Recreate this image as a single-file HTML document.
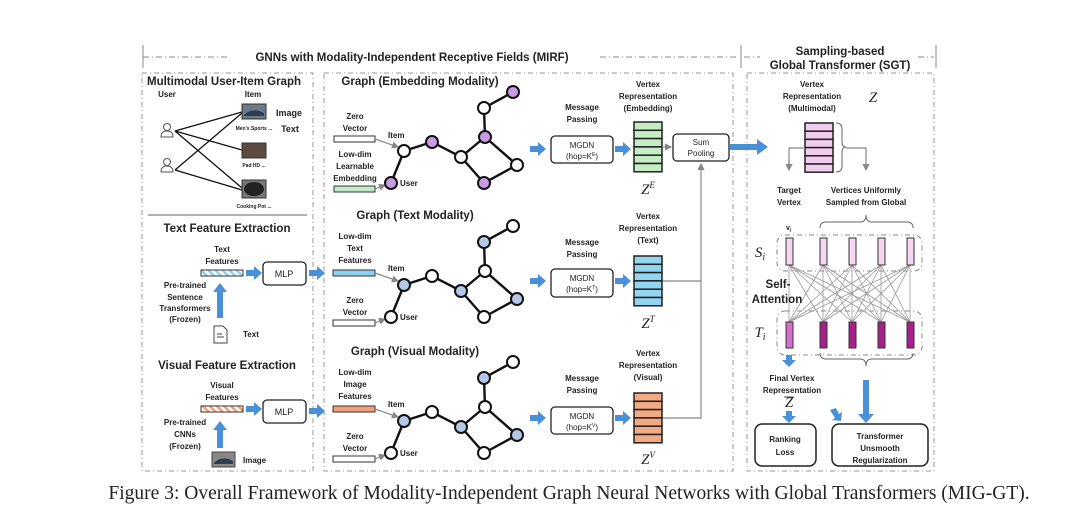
<!DOCTYPE html>
<html><head><meta charset="utf-8"><style>
html,body{margin:0;padding:0;background:#fff}
svg{display:block}
text{font-family:"Liberation Sans",Arial,sans-serif;font-weight:bold;fill:#222}
.s{font-size:8px}
.m{font-size:9px}
.t{font-size:11.5px}
.n{font-weight:normal}
.it{font-family:"Liberation Serif",serif;font-style:italic;font-weight:normal;font-size:15px}
.e{stroke:#111;stroke-width:2.4;fill:none}
.g{stroke:#888;stroke-width:1.2;fill:none}
</style></head><body>
<svg width="1080" height="515" viewBox="0 0 1080 515" xmlns="http://www.w3.org/2000/svg">
<defs>
<marker id="ga" markerWidth="6" markerHeight="6" refX="5" refY="3" orient="auto"><path d="M0,0 L6,3 L0,6z" fill="#888"/></marker>
<pattern id="ts" width="5" height="6" patternUnits="userSpaceOnUse" patternTransform="rotate(-45)"><rect width="5" height="6" fill="#fff"/><rect width="2.5" height="6" fill="#8fd0f0"/></pattern>
<pattern id="vs" width="5" height="6" patternUnits="userSpaceOnUse" patternTransform="rotate(-45)"><rect width="5" height="6" fill="#fff"/><rect width="2.5" height="6" fill="#f0a07a"/></pattern>
<g id="barr"><path d="M0,-3 L8,-3 L8,-7 L16,0 L8,7 L8,3 L0,3z" fill="#4a90d9"/></g>
</defs>

<line x1="143" y1="45" x2="143" y2="68" stroke="#888"/>
<line x1="143" y1="57" x2="230" y2="57" stroke="#888" stroke-dasharray="6,3,1,3"/>
<line x1="600" y1="57" x2="737" y2="57" stroke="#888" stroke-dasharray="6,3,1,3"/>
<text x="412" y="61" text-anchor="middle" class="t">GNNs with Modality-Independent Receptive Fields (MIRF)</text>
<line x1="741" y1="45" x2="741" y2="68" stroke="#888"/>
<line x1="744" y1="57" x2="760" y2="57" stroke="#888" stroke-dasharray="6,3,1,3"/>
<line x1="918" y1="57" x2="934" y2="57" stroke="#888" stroke-dasharray="6,3,1,3"/>
<line x1="936" y1="45" x2="936" y2="68" stroke="#888"/>
<text x="840" y="55" text-anchor="middle" class="t">Sampling-based</text>
<text x="840" y="69" text-anchor="middle" class="t">Global Transformer (SGT)</text>

<rect x="142" y="73" width="171" height="398" fill="none" stroke="#999" stroke-dasharray="5,3,1,3"/>
<rect x="324" y="73" width="409" height="398" fill="none" stroke="#999" stroke-dasharray="5,3,1,3"/>
<rect x="747" y="73" width="187" height="398" fill="none" stroke="#999" stroke-dasharray="5,3,1,3"/>
<line x1="148" y1="215" x2="307" y2="215" stroke="#999" stroke-width="1.5"/>

<text x="147" y="85" class="t">Multimodal User-Item Graph</text>
<text x="167" y="97" class="s" text-anchor="middle">User</text>
<text x="253" y="97" class="s" text-anchor="middle">Item</text>
<g stroke="#555" fill="none" stroke-width="1">
<circle cx="167" cy="127" r="3.5"/><path d="M161,137 q0,-6 6,-6 q6,0 6,6z"/>
<circle cx="167" cy="162" r="3.5"/><path d="M161,172 q0,-6 6,-6 q6,0 6,6z"/>
</g>
<g stroke="#111" stroke-width="1.3">
<line x1="175" y1="131" x2="242" y2="112"/><line x1="175" y1="131" x2="242" y2="150"/><line x1="175" y1="131" x2="242" y2="188"/>
<line x1="175" y1="170" x2="242" y2="113"/><line x1="175" y1="170" x2="242" y2="190"/>
</g>
<rect x="242" y="104" width="24" height="15" fill="#6a7a88" stroke="#333"/>
<path d="M244,115 q8,-8 20,-2 l0,3 l-20,0z" fill="#2d3e4e"/>
<rect x="242" y="143" width="24" height="15" fill="#5a4a40" stroke="#333"/>
<rect x="242" y="180" width="24" height="18" fill="#777" stroke="#333"/>
<ellipse cx="254" cy="189" rx="10" ry="7" fill="#222"/>
<text x="254" y="130" text-anchor="middle" font-size="5">Men's Sports ...</text>
<text x="254" y="167" text-anchor="middle" font-size="5">Pad HD ...</text>
<text x="254" y="208" text-anchor="middle" font-size="5">Cooking Pot ...</text>
<text x="289" y="116" text-anchor="middle" class="m">Image</text>
<text x="290" y="132" text-anchor="middle" class="m">Text</text>

<text x="227" y="232" text-anchor="middle" class="t">Text Feature Extraction</text>
<text x="222" y="252" text-anchor="middle" class="s">Text</text>
<text x="222" y="264" text-anchor="middle" class="s">Features</text>
<rect x="201" y="270" width="42" height="6" fill="url(#ts)" stroke="#333"/>
<use href="#barr" x="246" y="273"/>
<rect x="263" y="262" width="43" height="23" rx="4" fill="#fff" stroke="#222" stroke-width="1.3"/>
<text x="284" y="277" text-anchor="middle" class="m n">MLP</text>
<use href="#barr" x="309" y="273"/>
<text x="185" y="288" text-anchor="middle" class="s">Pre-trained</text>
<text x="185" y="300" text-anchor="middle" class="s">Sentence</text>
<text x="185" y="311" text-anchor="middle" class="s">Transformers</text>
<text x="185" y="322" text-anchor="middle" class="s">(Frozen)</text>
<path d="M217,318 L217,292 L213,292 L220,283 L227,292 L223,292 L223,318z" fill="#4a90d9"/>
<path d="M214,326 h9 l4,4 v13 h-13z" fill="#fff" stroke="#444"/>
<line x1="217" y1="334" x2="222" y2="334" stroke="#444"/><line x1="217" y1="337" x2="224" y2="337" stroke="#444"/>
<text x="243" y="337" class="s">Text</text>

<text x="227" y="369" text-anchor="middle" class="t">Visual Feature Extraction</text>
<text x="222" y="388" text-anchor="middle" class="s">Visual</text>
<text x="222" y="400" text-anchor="middle" class="s">Features</text>
<rect x="201" y="406" width="42" height="6" fill="url(#vs)" stroke="#333"/>
<use href="#barr" x="246" y="409"/>
<rect x="263" y="400" width="43" height="23" rx="4" fill="#fff" stroke="#222" stroke-width="1.3"/>
<text x="284" y="415" text-anchor="middle" class="m n">MLP</text>
<use href="#barr" x="309" y="411"/>
<text x="185" y="425" text-anchor="middle" class="s">Pre-trained</text>
<text x="185" y="437" text-anchor="middle" class="s">CNNs</text>
<text x="185" y="449" text-anchor="middle" class="s">(Frozen)</text>
<path d="M217,448 L217,430 L213,430 L220,421 L227,430 L223,430 L223,448z" fill="#4a90d9"/>
<rect x="212" y="452" width="23" height="15" fill="#888" stroke="#444"/>
<path d="M214,463 q8,-8 19,-2 l0,3 l-19,0z" fill="#2d3e4e"/>
<text x="243" y="463" class="s">Image</text>

<text x="420" y="85" text-anchor="middle" class="t">Graph (Embedding Modality)</text>
<text x="355" y="119" text-anchor="middle" class="s">Zero</text>
<text x="355" y="131" text-anchor="middle" class="s">Vector</text>
<rect x="334" y="136" width="41" height="6" fill="#fff" stroke="#333"/>
<text x="355" y="157" text-anchor="middle" class="s">Low-dim</text>
<text x="355" y="169" text-anchor="middle" class="s">Learnable</text>
<text x="355" y="181" text-anchor="middle" class="s">Embedding</text>
<rect x="334" y="186" width="41" height="6" fill="#c5e8c8" stroke="#333"/>
<line x1="375" y1="139" x2="398" y2="147" class="g" marker-end="url(#ga)"/>
<line x1="375" y1="189" x2="385" y2="185" class="g" marker-end="url(#ga)"/>
<text x="388" y="138" class="s">Item</text>
<text x="400" y="186" class="s">User</text>
<g>
<path class="e" d="M391,183 L404,151 L432,142 L461,157 L485,137 L484,108 L513,92 M485,137 L517,165 L484,183 L461,157"/>
<g stroke="#111" stroke-width="2">
<circle cx="391" cy="183" r="6" fill="#c99be6"/><circle cx="404" cy="151" r="6" fill="#fff"/>
<circle cx="432" cy="142" r="6" fill="#c99be6"/><circle cx="461" cy="157" r="6" fill="#fff"/>
<circle cx="485" cy="137" r="6" fill="#c99be6"/><circle cx="484" cy="108" r="6" fill="#fff"/>
<circle cx="513" cy="92" r="6" fill="#c99be6"/><circle cx="517" cy="165" r="6" fill="#fff"/>
<circle cx="484" cy="183" r="6" fill="#c99be6"/>
</g></g>

<text x="415" y="219" text-anchor="middle" class="t">Graph (Text Modality)</text>
<text x="355" y="239" text-anchor="middle" class="s">Low-dim</text>
<text x="355" y="251" text-anchor="middle" class="s">Text</text>
<text x="355" y="263" text-anchor="middle" class="s">Features</text>
<rect x="333" y="270" width="42" height="6" fill="#8fd0f0" stroke="#333"/>
<text x="355" y="303" text-anchor="middle" class="s">Zero</text>
<text x="355" y="315" text-anchor="middle" class="s">Vector</text>
<rect x="333" y="320" width="42" height="6" fill="#fff" stroke="#333"/>
<line x1="375" y1="273" x2="398" y2="281" class="g" marker-end="url(#ga)"/>
<line x1="375" y1="323" x2="385" y2="319" class="g" marker-end="url(#ga)"/>
<text x="388" y="271" class="s">Item</text>
<text x="400" y="320" class="s">User</text>
<g transform="translate(0,134)">
<path class="e" d="M391,183 L404,151 L432,142 L461,157 L485,137 L484,108 L513,92 M485,137 L517,165 L484,183 L461,157"/>
<g stroke="#111" stroke-width="2">
<circle cx="391" cy="183" r="6" fill="#fff"/><circle cx="404" cy="151" r="6" fill="#b4c7e7"/>
<circle cx="432" cy="142" r="6" fill="#fff"/><circle cx="461" cy="157" r="6" fill="#b4c7e7"/>
<circle cx="485" cy="137" r="6" fill="#fff"/><circle cx="484" cy="108" r="6" fill="#b4c7e7"/>
<circle cx="513" cy="92" r="6" fill="#fff"/><circle cx="517" cy="165" r="6" fill="#b4c7e7"/>
<circle cx="484" cy="183" r="6" fill="#fff"/>
</g></g>

<text x="415" y="355" text-anchor="middle" class="t">Graph (Visual Modality)</text>
<text x="355" y="375" text-anchor="middle" class="s">Low-dim</text>
<text x="355" y="387" text-anchor="middle" class="s">Image</text>
<text x="355" y="399" text-anchor="middle" class="s">Features</text>
<rect x="333" y="406" width="42" height="6" fill="#f0a07a" stroke="#333"/>
<text x="355" y="439" text-anchor="middle" class="s">Zero</text>
<text x="355" y="451" text-anchor="middle" class="s">Vector</text>
<rect x="333" y="456" width="42" height="6" fill="#fff" stroke="#333"/>
<line x1="375" y1="409" x2="398" y2="417" class="g" marker-end="url(#ga)"/>
<line x1="375" y1="459" x2="385" y2="455" class="g" marker-end="url(#ga)"/>
<text x="388" y="407" class="s">Item</text>
<text x="400" y="456" class="s">User</text>
<g transform="translate(0,270)">
<path class="e" d="M391,183 L404,151 L432,142 L461,157 L485,137 L484,108 L513,92 M485,137 L517,165 L484,183 L461,157"/>
<g stroke="#111" stroke-width="2">
<circle cx="391" cy="183" r="6" fill="#fff"/><circle cx="404" cy="151" r="6" fill="#b4c7e7"/>
<circle cx="432" cy="142" r="6" fill="#fff"/><circle cx="461" cy="157" r="6" fill="#b4c7e7"/>
<circle cx="485" cy="137" r="6" fill="#fff"/><circle cx="484" cy="108" r="6" fill="#b4c7e7"/>
<circle cx="513" cy="92" r="6" fill="#fff"/><circle cx="517" cy="165" r="6" fill="#b4c7e7"/>
<circle cx="484" cy="183" r="6" fill="#fff"/>
</g></g>

<text x="582" y="110" text-anchor="middle" class="s">Message</text>
<text x="582" y="122" text-anchor="middle" class="s">Passing</text>
<text x="648" y="87" text-anchor="middle" class="s">Vertex</text>
<text x="648" y="99" text-anchor="middle" class="s">Representation</text>
<text x="648" y="111" text-anchor="middle" class="s">(Embedding)</text>
<use href="#barr" x="530" y="149"/>
<rect x="551" y="136" width="62" height="27" rx="4" fill="#fff" stroke="#222" stroke-width="1.3"/>
<text x="582" y="148" text-anchor="middle" class="s n">MGDN</text>
<text x="582" y="159" text-anchor="middle" class="s n">(hop=K<tspan font-size="5" dy="-3">E</tspan><tspan dy="3">)</tspan></text>
<use href="#barr" x="615" y="149"/>
<g stroke="#222" stroke-width="1.5" fill="#c5ecc5">
<rect x="634" y="122" width="28" height="8.3"/><rect x="634" y="130.3" width="28" height="8.3"/><rect x="634" y="138.6" width="28" height="8.3"/><rect x="634" y="146.9" width="28" height="8.3"/><rect x="634" y="155.2" width="28" height="8.3"/><rect x="634" y="163.5" width="28" height="8.3"/>
</g>
<text x="648" y="194" text-anchor="middle" class="it">Z<tspan font-size="9" dy="-6">E</tspan></text>
<line x1="662" y1="147" x2="671" y2="147" class="g" marker-end="url(#ga)"/>
<rect x="673" y="134" width="56" height="27" rx="4" fill="#fff" stroke="#222" stroke-width="1.3"/>
<text x="701" y="145" text-anchor="middle" class="s n">Sum</text>
<text x="701" y="156" text-anchor="middle" class="s n">Pooling</text>
<path d="M662,281 H701 M662,418 H701 V164" class="g" marker-end="url(#ga)"/>
<path d="M730,144 L757,144 L757,139 L768,147 L757,155 L757,150 L730,150z" fill="#4a90d9"/>

<text x="582" y="245" text-anchor="middle" class="s">Message</text>
<text x="582" y="257" text-anchor="middle" class="s">Passing</text>
<text x="648" y="219" text-anchor="middle" class="s">Vertex</text>
<text x="648" y="231" text-anchor="middle" class="s">Representation</text>
<text x="648" y="243" text-anchor="middle" class="s">(Text)</text>
<use href="#barr" x="530" y="281"/>
<rect x="551" y="269" width="62" height="28" rx="4" fill="#fff" stroke="#222" stroke-width="1.3"/>
<text x="582" y="281" text-anchor="middle" class="s n">MGDN</text>
<text x="582" y="292" text-anchor="middle" class="s n">(hop=K<tspan font-size="5" dy="-3">T</tspan><tspan dy="3">)</tspan></text>
<use href="#barr" x="615" y="281"/>
<g stroke="#222" stroke-width="1.5" fill="#93d6f2">
<rect x="634" y="256" width="28" height="8.3"/><rect x="634" y="264.3" width="28" height="8.3"/><rect x="634" y="272.6" width="28" height="8.3"/><rect x="634" y="280.9" width="28" height="8.3"/><rect x="634" y="289.2" width="28" height="8.3"/><rect x="634" y="297.5" width="28" height="8.3"/>
</g>
<text x="648" y="328" text-anchor="middle" class="it">Z<tspan font-size="9" dy="-6">T</tspan></text>

<text x="582" y="381" text-anchor="middle" class="s">Message</text>
<text x="582" y="393" text-anchor="middle" class="s">Passing</text>
<text x="648" y="356" text-anchor="middle" class="s">Vertex</text>
<text x="648" y="368" text-anchor="middle" class="s">Representation</text>
<text x="648" y="380" text-anchor="middle" class="s">(Visual)</text>
<use href="#barr" x="530" y="418"/>
<rect x="551" y="407" width="62" height="27" rx="4" fill="#fff" stroke="#222" stroke-width="1.3"/>
<text x="582" y="419" text-anchor="middle" class="s n">MGDN</text>
<text x="582" y="430" text-anchor="middle" class="s n">(hop=K<tspan font-size="5" dy="-3">V</tspan><tspan dy="3">)</tspan></text>
<use href="#barr" x="615" y="418"/>
<g stroke="#222" stroke-width="1.5" fill="#f2aa84">
<rect x="634" y="393" width="28" height="8.3"/><rect x="634" y="401.3" width="28" height="8.3"/><rect x="634" y="409.6" width="28" height="8.3"/><rect x="634" y="417.9" width="28" height="8.3"/><rect x="634" y="426.2" width="28" height="8.3"/><rect x="634" y="434.5" width="28" height="8.3"/>
</g>
<text x="648" y="464" text-anchor="middle" class="it">Z<tspan font-size="9" dy="-6">V</tspan></text>

<text x="812" y="87" text-anchor="middle" class="s">Vertex</text>
<text x="812" y="99" text-anchor="middle" class="s">Representation</text>
<text x="812" y="111" text-anchor="middle" class="s">(Multimodal)</text>
<text x="873" y="102" text-anchor="middle" class="it">Z</text>
<g stroke="#222" stroke-width="1.5" fill="#f0cdee">
<rect x="805" y="123" width="28" height="8.2"/><rect x="805" y="131.2" width="28" height="8.2"/><rect x="805" y="139.4" width="28" height="8.2"/><rect x="805" y="147.6" width="28" height="8.2"/><rect x="805" y="155.8" width="28" height="8.2"/><rect x="805" y="164" width="28" height="8.2"/>
</g>
<path d="M836,123 q6,0 6,6 v13 q0,5 4,5 q-4,0 -4,5 v14 q0,6 -6,6" stroke="#666" fill="none"/>
<path d="M805,148 H789 V170 M846,148 H866 V170" class="g" marker-end="url(#ga)"/>
<path d="M789,160 V170" class="g" marker-end="url(#ga)"/>
<text x="789" y="193" text-anchor="middle" class="s">Target</text>
<text x="789" y="205" text-anchor="middle" class="s">Vertex</text>
<text x="866" y="193" text-anchor="middle" class="s">Vertices Uniformly</text>
<text x="866" y="205" text-anchor="middle" class="s">Sampled from Global</text>
<path d="M820,228 q0,-6 6,-6 h34 q6,0 6,-7 q0,7 6,7 h35 q6,0 6,6" stroke="#666" fill="none"/>
<text x="786" y="230" font-size="7">v<tspan font-size="5" dy="2">i</tspan></text>
<rect x="777" y="235" width="145" height="36" rx="8" fill="none" stroke="#888" stroke-dasharray="5,3,1,3"/>
<rect x="777" y="311" width="145" height="44" rx="8" fill="none" stroke="#888" stroke-dasharray="5,3,1,3"/>
<text x="760" y="257" text-anchor="middle" class="it">S<tspan font-size="10" dy="3">i</tspan></text>
<text x="760" y="337" text-anchor="middle" class="it">T<tspan font-size="10" dy="3">i</tspan></text>
<g stroke="#999" stroke-width="0.8">
<line x1="789" y1="265" x2="789" y2="322"/><line x1="789" y1="265" x2="823" y2="322"/><line x1="789" y1="265" x2="852" y2="322"/><line x1="789" y1="265" x2="881" y2="322"/><line x1="789" y1="265" x2="910" y2="322"/>
<line x1="823" y1="265" x2="789" y2="322"/><line x1="823" y1="265" x2="823" y2="322"/><line x1="823" y1="265" x2="852" y2="322"/><line x1="823" y1="265" x2="881" y2="322"/><line x1="823" y1="265" x2="910" y2="322"/>
<line x1="852" y1="265" x2="789" y2="322"/><line x1="852" y1="265" x2="823" y2="322"/><line x1="852" y1="265" x2="852" y2="322"/><line x1="852" y1="265" x2="881" y2="322"/><line x1="852" y1="265" x2="910" y2="322"/>
<line x1="881" y1="265" x2="789" y2="322"/><line x1="881" y1="265" x2="823" y2="322"/><line x1="881" y1="265" x2="852" y2="322"/><line x1="881" y1="265" x2="881" y2="322"/><line x1="881" y1="265" x2="910" y2="322"/>
<line x1="910" y1="265" x2="789" y2="322"/><line x1="910" y1="265" x2="823" y2="322"/><line x1="910" y1="265" x2="852" y2="322"/><line x1="910" y1="265" x2="881" y2="322"/><line x1="910" y1="265" x2="910" y2="322"/>
</g>
<g stroke="#333" stroke-width="1" fill="#f5d5f0">
<rect x="786" y="238" width="7" height="27"/><rect x="820" y="238" width="7" height="27"/><rect x="849" y="238" width="7" height="27"/><rect x="878" y="238" width="7" height="27"/><rect x="907" y="238" width="7" height="27"/>
</g>
<g stroke="#333" stroke-width="1" fill="#a8208e">
<rect x="786" y="322" width="7" height="26" fill="#d66ccc"/><rect x="820" y="322" width="7" height="26"/><rect x="849" y="322" width="7" height="26"/><rect x="878" y="322" width="7" height="26"/><rect x="907" y="322" width="7" height="26"/>
</g>
<text x="778" y="288" text-anchor="middle" class="t" font-size="11">Self-</text>
<text x="777" y="303" text-anchor="middle" class="t" font-size="11">Attention</text>
<path d="M820,353 q0,6 6,6 h34 q6,0 6,7 q0,-7 6,-7 h35 q6,0 6,-6" stroke="#666" fill="none"/>
<path d="M786,355 h6 v5 h4 l-7,7 l-7,-7 h4z" fill="#4a90d9"/>
<text x="792" y="381" text-anchor="middle" class="s">Final Vertex</text>
<text x="792" y="393" text-anchor="middle" class="s">Representation</text>
<text x="789" y="407" text-anchor="middle" class="it">Z</text>
<line x1="784" y1="397" x2="794" y2="397" stroke="#222" stroke-width="0.8"/>
<path d="M786,411 h6 v5 h4 l-7,7 l-7,-7 h4z" fill="#4a90d9"/>
<path d="M830,410 l6,-2 l3,6 l3,-2 l-1,9 l-9,-1 l3,-2z" fill="#4a90d9"/>
<path d="M863,380 h6 v34 h5 l-8,9 l-8,-9 h5z" fill="#4a90d9"/>
<rect x="755" y="424" width="61" height="42" rx="7" fill="#fff" stroke="#222" stroke-width="1.5"/>
<text x="785" y="442" text-anchor="middle" class="s">Ranking</text>
<text x="785" y="455" text-anchor="middle" class="s">Loss</text>
<rect x="832" y="424" width="96" height="42" rx="7" fill="#fff" stroke="#222" stroke-width="1.5"/>
<text x="880" y="439" text-anchor="middle" class="s">Transformer</text>
<text x="880" y="451" text-anchor="middle" class="s">Unsmooth</text>
<text x="880" y="463" text-anchor="middle" class="s">Regularization</text>

<text x="569" y="499" text-anchor="middle" font-size="19.5" style="font-family:'Liberation Serif',serif;font-weight:normal">Figure 3: Overall Framework of Modality-Independent Graph Neural Networks with Global Transformers (MIG-GT).</text>
</svg>
</body></html>
